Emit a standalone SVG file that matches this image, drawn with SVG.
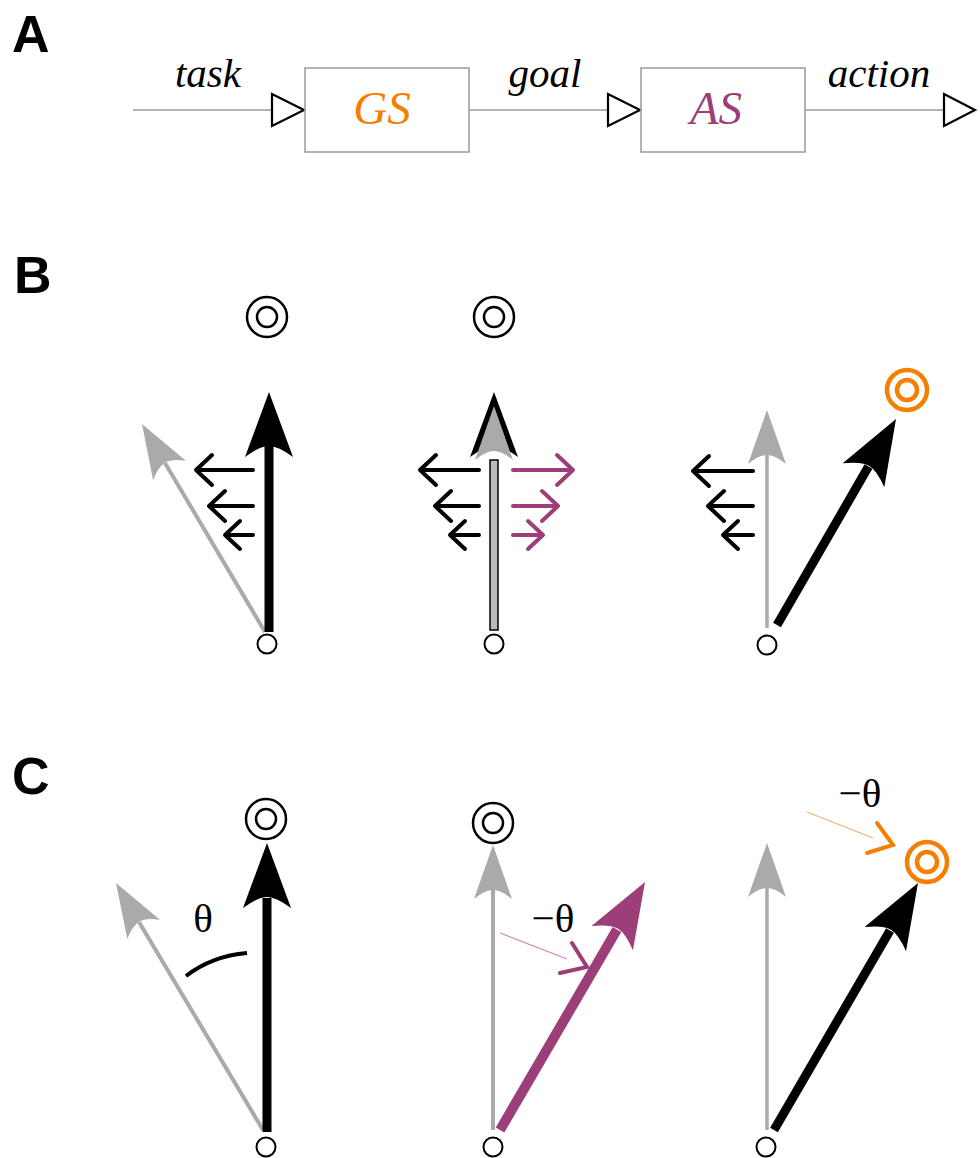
<svg xmlns="http://www.w3.org/2000/svg" width="980" height="1158" viewBox="0 0 980 1158">
<style>
.lbl{font-family:"Liberation Sans",Arial,sans-serif;font-weight:bold;font-size:52px;fill:#000}
.it{font-family:"Liberation Serif","Times New Roman",serif;font-style:italic;font-size:41px;fill:#000;text-anchor:middle}
.big{font-family:"Liberation Serif","Times New Roman",serif;font-style:italic;font-size:47px;text-anchor:middle}
.th{font-family:"Liberation Serif","Times New Roman",serif;font-size:41px;fill:#000;text-anchor:middle}
.wire{stroke:#999;stroke-width:1.5;fill:none}
.box{fill:#fff;stroke:#999;stroke-width:1.5}
.tri{fill:#fff;stroke:#000;stroke-width:2.2;stroke-linejoin:miter}
.dot{fill:#fff;stroke:#000;stroke-width:2}
.ring{fill:none;stroke:#000;stroke-width:2.5}
.oring{fill:none;stroke:#f57f00;stroke-width:4.5}
.gshaft{stroke:#aaa;stroke-width:4;fill:none}
.bshaft{stroke:#000;stroke-width:9;fill:none}
.pshaft{stroke:#9c3f78;stroke-width:10;fill:none}
.bk{fill:#000}
.gy{fill:#aaa}
.pu{fill:#9c3f78}
.push{stroke:#000;stroke-width:4;fill:none;stroke-linecap:round;stroke-linejoin:round}
.pushp{stroke:#9c3f78;stroke-width:4;fill:none;stroke-linecap:round;stroke-linejoin:round}
.thinp{stroke:#c98bb0;stroke-width:1.2;fill:none}
.thino{stroke:#f8b070;stroke-width:1.2;fill:none}
.chp{stroke:#9c3f78;stroke-width:4;fill:none;stroke-linecap:round}
.cho{stroke:#f57f00;stroke-width:4;fill:none;stroke-linecap:round}
</style>
<defs>
<path id="hb" d="M0,0 L24,65 Q9,54 0,54 Q-9,54 -24,65 Z"/>
<path id="hg" d="M0,0 L19,54 Q8,45 0,45 Q-8,45 -19,54 Z"/>
</defs>

<text class="lbl" x="12" y="52">A</text>
<text class="lbl" x="14" y="293">B</text>
<text class="lbl" x="12" y="794">C</text>

<g id="connectors">
<path class="wire" d="M133,110 H272"/>
<path class="wire" d="M469,110 H608"/>
<path class="wire" d="M805,110 H944"/>
<polygon class="tri" points="272,94 304,110 272,126"/>
<polygon class="tri" points="608,94 640,110 608,126"/>
<polygon class="tri" points="944,94 975,110 944,126"/>
<text class="it" x="208" y="87">task</text>
<text class="it" x="545" y="87">goal</text>
<text class="it" x="879" y="87">action</text>
</g>
<g id="GS">
<rect class="box" x="305" y="68" width="164" height="84"/>
<text class="big" x="382" y="124" fill="#f57f00">GS</text>
</g>
<g id="AS">
<rect class="box" x="641" y="68" width="164" height="84"/>
<text class="big" x="716" y="124" fill="#9c3f78">AS</text>
</g>

<g id="B1">
<circle class="ring" cx="267" cy="317" r="20"/>
<circle class="ring" cx="267" cy="317" r="10"/>
<path class="gshaft" d="M265,632 L165,463"/>
<use href="#hg" class="gy" transform="translate(142,424) rotate(-30.6)"/>
<path class="bshaft" d="M269,632 V445"/>
<use href="#hb" class="bk" transform="translate(269,392)"/>
<path class="push" d="M253,470 H198 M212,455 L196,470 L212,485"/>
<path class="push" d="M253,506 H212 M225,491 L209,506 L225,521"/>
<path class="push" d="M253,535 H228 M240,521 L225,535 L240,549"/>
<circle class="dot" cx="267" cy="644" r="9.5"/>
</g>

<g id="B2">
<circle class="ring" cx="494" cy="317" r="20"/>
<circle class="ring" cx="494" cy="317" r="10"/>
<use href="#hb" class="bk" transform="translate(494,392)"/>
<use href="#hg" class="gy" transform="translate(494,406)"/>
<rect x="490" y="460" width="8" height="170" fill="#bbb" stroke="#000" stroke-width="1.5"/>
<path class="push" d="M479,470 H423 M436,455 L420,470 L436,485"/>
<path class="push" d="M479,506 H438 M451,491 L435,506 L451,521"/>
<path class="push" d="M479,535 H453 M465,521 L450,535 L465,549"/>
<path class="pushp" d="M513,470 H570 M557,455 L573,470 L557,485"/>
<path class="pushp" d="M513,506 H555 M542,491 L558,506 L542,521"/>
<path class="pushp" d="M513,535 H540 M528,521 L543,535 L528,549"/>
<circle class="dot" cx="494" cy="644" r="9.5"/>
</g>

<g id="B3">
<path class="gshaft" d="M767,628 V455" style="stroke-width:3.5"/>
<use href="#hg" class="gy" transform="translate(767,410)"/>
<path class="push" d="M753,471 H696 M709,456 L693,471 L709,486"/>
<path class="push" d="M753,506 H711 M724,491 L708,506 L724,521"/>
<path class="push" d="M753,535 H726 M738,521 L723,535 L738,549"/>
<path class="bshaft" d="M777,625 L868.5,466.6"/>
<use href="#hb" class="bk" transform="translate(896,419) rotate(30)"/>
<circle class="oring" cx="907" cy="390" r="20"/>
<circle class="oring" cx="907" cy="390" r="10"/>
<circle class="dot" cx="767" cy="645" r="9.5"/>
</g>

<g id="C1">
<circle class="ring" cx="266" cy="819" r="20"/>
<circle class="ring" cx="266" cy="819" r="10"/>
<path class="gshaft" d="M263,1130 L139,922"/>
<use href="#hg" class="gy" transform="translate(116,883) rotate(-30.8)"/>
<path class="bshaft" d="M267,1132 V898"/>
<use href="#hb" class="bk" transform="translate(267,843)"/>
<path d="M186,976 Q212,956 247,953" stroke="#000" stroke-width="4" fill="none"/>
<text class="th" x="203" y="932">θ</text>
<circle class="dot" cx="266" cy="1147" r="9.5"/>
</g>

<g id="C2">
<circle class="ring" cx="493" cy="823" r="20"/>
<circle class="ring" cx="493" cy="823" r="10"/>
<path class="gshaft" d="M493,1130 V890"/>
<use href="#hg" class="gy" transform="translate(493,845)"/>
<path class="pshaft" d="M500,1130 L617,929.5"/>
<use href="#hb" class="pu" transform="translate(645,882) rotate(30.3)"/>
<path class="thinp" d="M500,933 L567,959"/>
<path class="chp" d="M572,943 L587,967 L560,973"/>
<text class="th" x="553" y="932">−θ</text>
<circle class="dot" cx="493" cy="1147" r="9.5"/>
</g>

<g id="C3">
<path class="gshaft" d="M767,1130 V888" style="stroke-width:3.5"/>
<use href="#hg" class="gy" transform="translate(767,843)"/>
<path class="bshaft" d="M774,1130 L890,930.5"/>
<use href="#hb" class="bk" transform="translate(918,883) rotate(30.2)"/>
<circle class="oring" cx="927" cy="862" r="20"/>
<circle class="oring" cx="927" cy="862" r="10"/>
<path class="thino" d="M807,812 L873,838"/>
<path class="cho" d="M877,823 L893,845 L867,853"/>
<text class="th" x="860" y="807">−θ</text>
<circle class="dot" cx="766" cy="1147" r="9.5"/>
</g>
</svg>
